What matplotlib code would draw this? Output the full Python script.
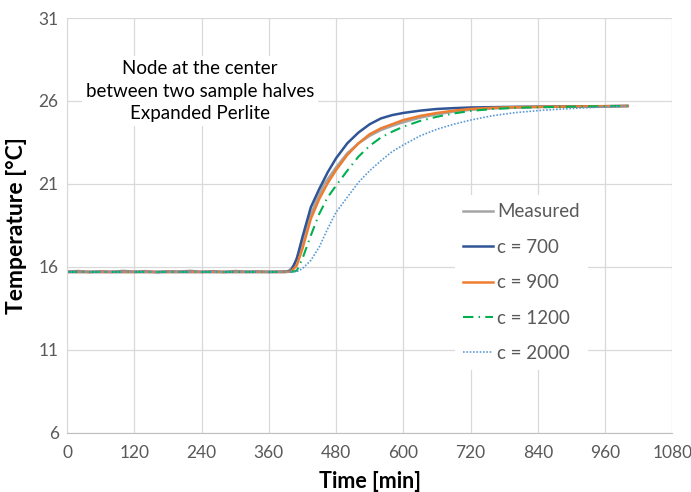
import matplotlib
matplotlib.use('Agg')
import matplotlib.pyplot as plt

plt.rcParams['font.family'] = ['Lato', 'DejaVu Sans']

# simulated curves share one time grid
t_sim = [0, 390, 400, 410, 420, 435, 450, 465, 480, 500, 520, 540, 560, 580, 600,
         630, 660, 690, 720, 760, 800, 850, 900, 950, 1000]
c700 = [15.7, 15.7, 15.78, 16.5, 17.8, 19.6, 20.7, 21.7, 22.55, 23.45, 24.1, 24.6, 24.95,
        25.15, 25.28, 25.42, 25.52, 25.57, 25.61, 25.63, 25.65, 25.66, 25.67, 25.68, 25.7]
c900 = [15.7, 15.7, 15.72, 16.1, 17.1, 18.9, 20.1, 21.05, 21.84, 22.75, 23.45, 24.0, 24.35,
        24.6, 24.85, 25.1, 25.28, 25.42, 25.52, 25.59, 25.63, 25.65, 25.67, 25.68, 25.7]
c1200 = [15.7, 15.7, 15.7, 15.78, 16.5, 17.9, 19.2, 20.2, 20.9, 21.8, 22.65, 23.3, 23.8,
         24.15, 24.45, 24.8, 25.05, 25.25, 25.4, 25.52, 25.59, 25.63, 25.66, 25.68, 25.7]
c2000 = [15.7, 15.7, 15.7, 15.72, 15.9, 16.4, 17.2, 18.3, 19.3, 20.2, 21.1, 21.8, 22.4,
         22.95, 23.35, 23.9, 24.3, 24.6, 24.85, 25.12, 25.3, 25.45, 25.55, 25.63, 25.7]

# measured (noisy sensor)
t_meas = [0, 20, 40, 60, 80, 100, 120, 140, 160, 180, 200, 220, 240, 260, 280, 300, 320,
          340, 360, 380, 395, 405, 415, 431, 445, 459, 480, 500, 520, 540, 560, 580,
          600, 630, 660, 690, 720, 760, 800, 850, 900, 950, 1000]
measured = [15.72, 15.76, 15.69, 15.74, 15.7, 15.77, 15.71, 15.75, 15.68, 15.74, 15.72,
            15.77, 15.7, 15.75, 15.69, 15.76, 15.71, 15.74, 15.7, 15.73, 15.75, 16.1, 17.0,
            18.83, 20.0, 21.0, 22.0, 22.85, 23.45, 23.9, 24.25, 24.5, 24.72, 25.0, 25.2,
            25.36, 25.47, 25.55, 25.6, 25.64, 25.66, 25.69, 25.7]

x_ticks = [0, 120, 240, 360, 480, 600, 720, 840, 960, 1080]
y_ticks = [6, 11, 16, 21, 26, 31]

fig = plt.figure(figsize=(6.91, 4.92), dpi=100)
ax = fig.add_axes([0.097, 0.12, 0.876, 0.8434])

ax.plot(t_meas, measured, color='#a5a5a5', lw=1.8, label='Measured')
ax.plot(t_sim, c700, color='#2f5597', lw=1.8, label='c = 700')
ax.plot(t_sim, c900, color='#ed7d31', lw=1.8, label='c = 900')
ax.plot(t_sim, c1200, color='#00b050', lw=1.5, ls=(0, (5, 2.5, 0.7, 2.5)), label='c = 1200')
ax.plot(t_sim, c2000, color='#5b9bd5', lw=1.2, ls=(0, (1, 1)), label='c = 2000')

ax.set_xlim(0, 1080)
ax.set_ylim(6, 31)
ax.set_xticks(x_ticks)
ax.set_yticks(y_ticks)
ax.grid(True, color='#d9d9d9', lw=0.9)
ax.set_axisbelow(True)
for s in ['top', 'right']:
    ax.spines[s].set_visible(False)
ax.spines['bottom'].set_color('#bfbfbf')
ax.spines['left'].set_color('#d9d9d9')
ax.tick_params(length=0, labelsize=12.5, colors='#595959', pad=6)
ax.tick_params(axis='x', pad=9)

ax.set_xlabel('Time [min]', fontsize=15.5, fontweight='bold', labelpad=7)
ax.set_ylabel('Temperature [°C]', fontsize=16.5, fontweight='bold', labelpad=8)

ax.text(237, 26.6, 'Node at the center\nbetween two sample halves\nExpanded Perlite',
        ha='center', va='center', fontsize=13.5, linespacing=1.38,
        bbox=dict(facecolor='white', edgecolor='none', pad=3))

leg = ax.legend(loc='upper left', bbox_to_anchor=(0.641, 0.5735), borderaxespad=0,
                frameon=True, fontsize=13.5, handlelength=1.6, labelspacing=0.98,
                handletextpad=0.2, borderpad=0.45)
leg.get_frame().set_edgecolor('none')
leg.get_frame().set_facecolor('white')
leg.get_frame().set_alpha(1)
leg.get_frame().set_boxstyle('square', pad=0)
for txt in leg.get_texts():
    txt.set_color('#595959')

fig.savefig('out.png', dpi=100)
